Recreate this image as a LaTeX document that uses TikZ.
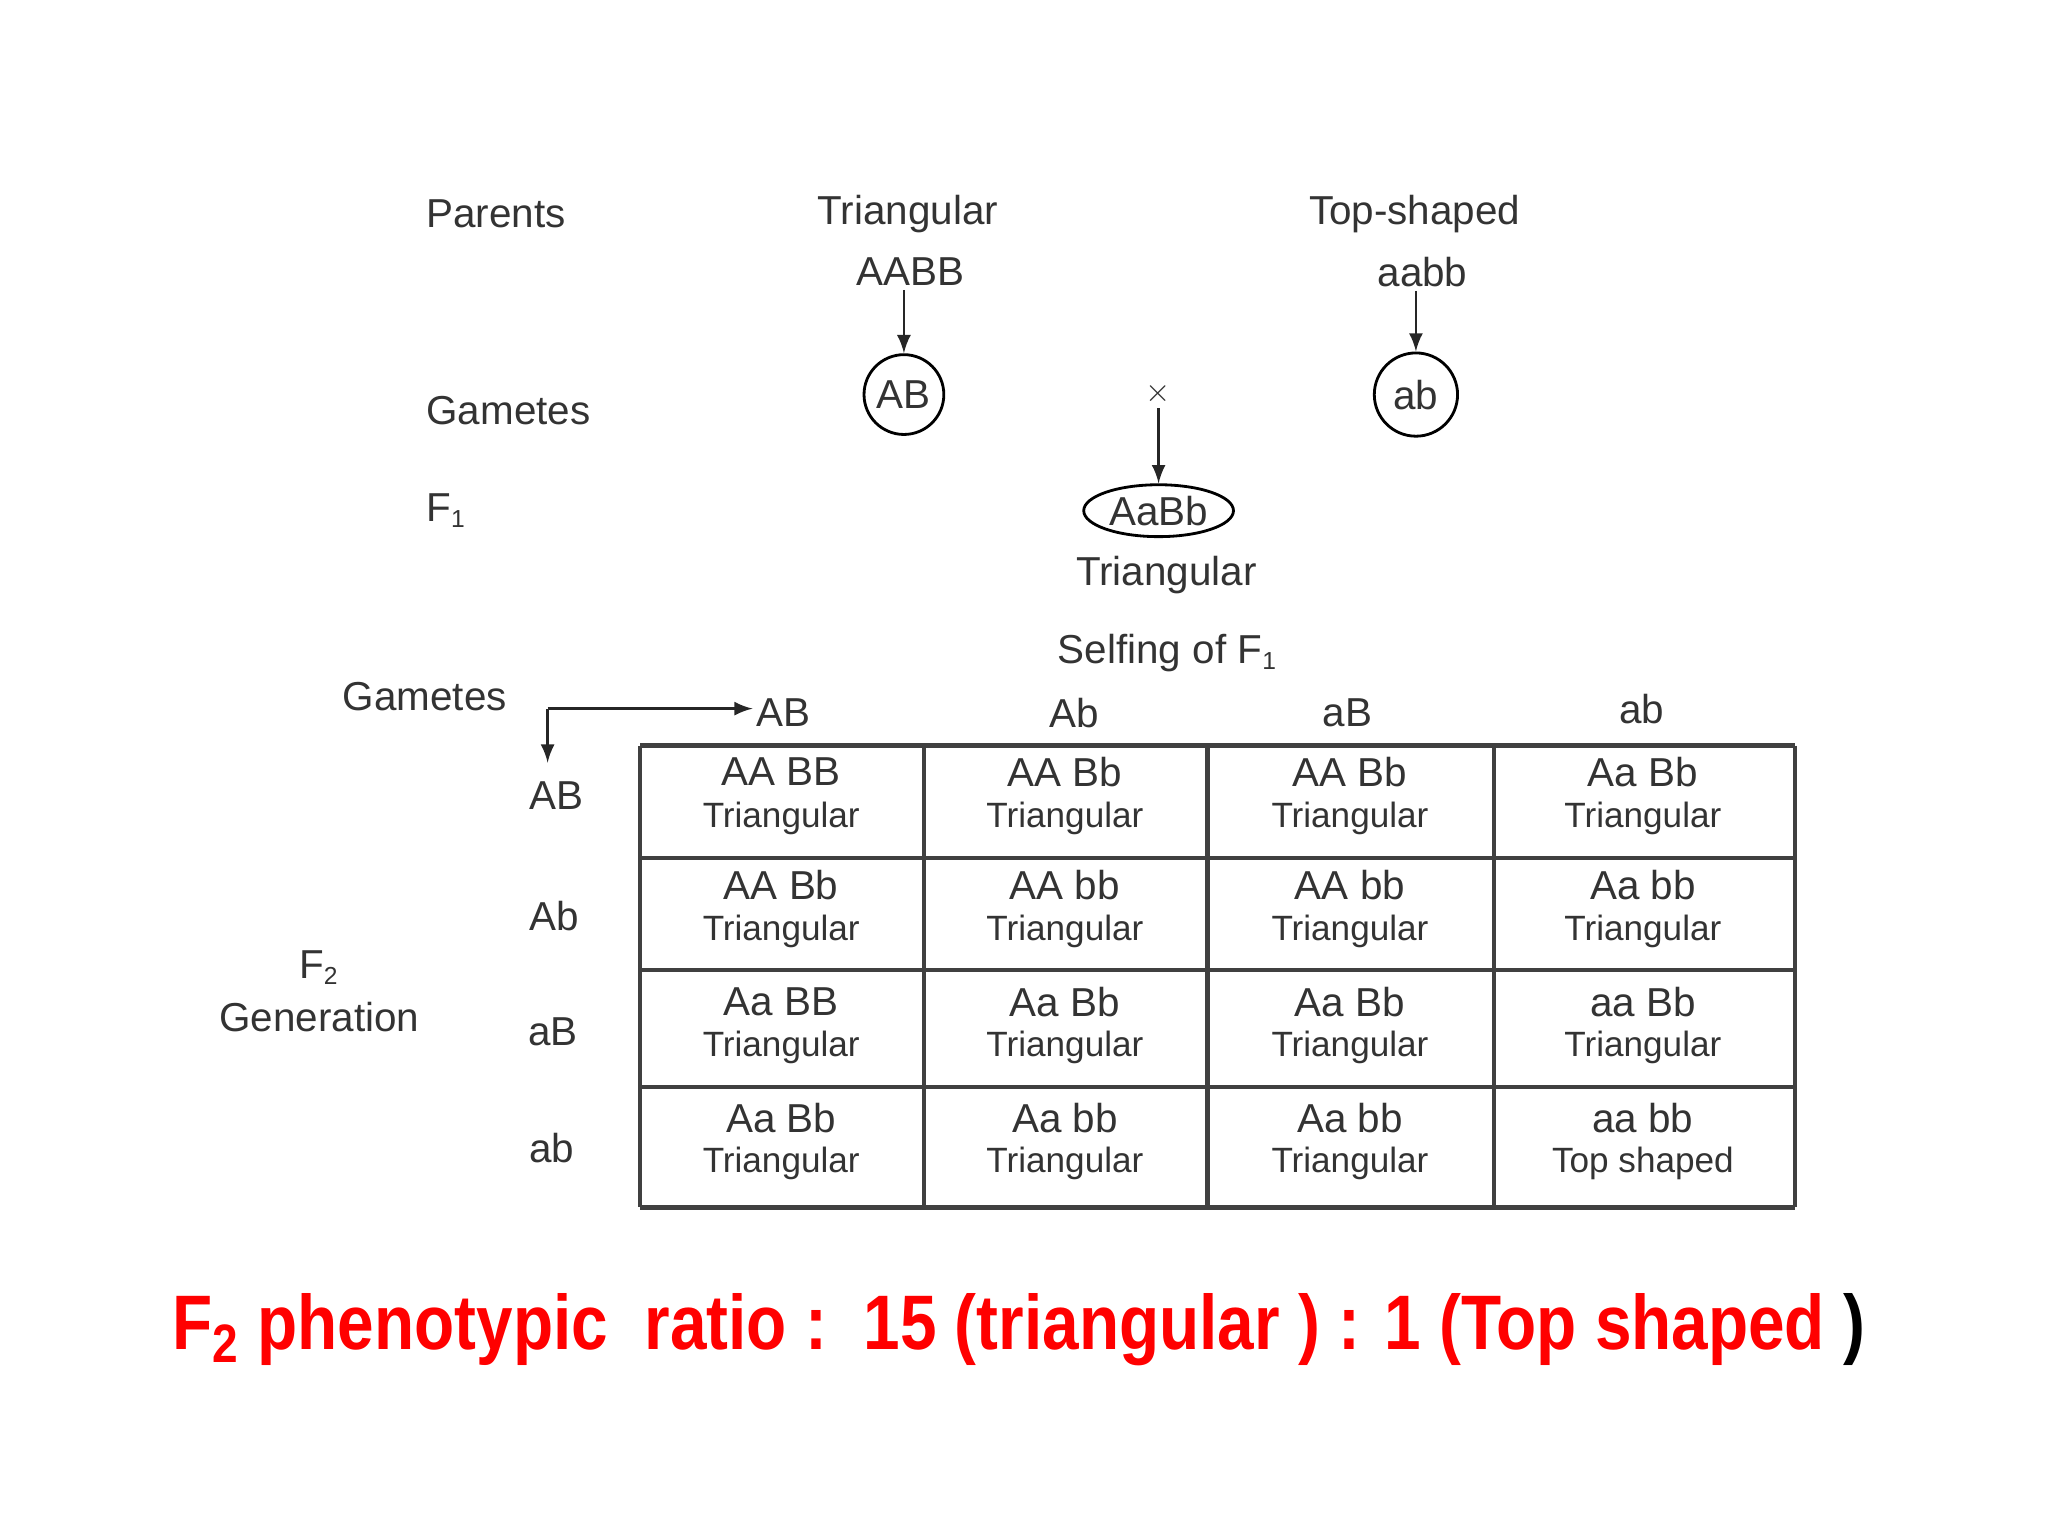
\documentclass[tikz,border=0pt]{standalone}
\usepackage{fontspec}
\setmainfont{Liberation Sans}
\usetikzlibrary{shapes.geometric}
\begin{document}
\begin{tikzpicture}[x=0.0132cm,y=-0.0132cm,
  lab/.style={font=\fontsize{11.5}{13}\selectfont,text=black!80,inner sep=1pt},
  gen/.style={font=\fontsize{11.5}{13}\selectfont,text=black!80,inner sep=0pt},
  phe/.style={font=\fontsize{10}{12}\selectfont,text=black!80,inner sep=0pt},
  arr/.style={-latex,thick,black!85},
  cell/.style={draw=black!75,line width=1.2pt}]
\useasboundingbox (0,0) rectangle (1552,1164);
\node[lab,anchor=west] (par) at (320,162) {Parents};
\node[lab] (pt) at (688,162) {Triangular};
\node[lab] (pts) at (1072,162) {Top-shaped};
\node[lab] (g1) at (690,206) {AABB};
\node[lab] (g2) at (1078,206) {aabb};
\node[lab,draw,circle,thick,inner sep=2pt] (ga) at (685,299) {AB};
\node[lab,draw,circle,thick,inner sep=3pt] (gb) at (1073,299) {ab};
\draw[arr] (g1.south -| ga) -- (ga.north);
\draw[arr] (g2.south -| gb) -- (gb.north);
\node[lab,anchor=west] (gam) at (320,311) {Gametes};
\node[lab,font=\fontsize{9}{10}\selectfont] (x) at (878,298) {$\times$};
\node[lab,draw,ellipse,thick,inner sep=1pt] (f1) at (878,387) {AaBb};
\draw[arr] (x.south) -- (x.south |- f1.north);
\node[lab,anchor=west] (f1l) at (320,387) {F\textsubscript{\scriptsize 1}};
\node[lab] (f1t) at (884,436) {Triangular};
\node[lab] (self) at (885,495) {Selfing of F\textsubscript{\scriptsize 1}};
\node[lab] (gam2) at (322,528) {Gametes};
\coordinate (corner) at (415,537);
\coordinate (down) at (415,578);
\node[lab] (cAB) at (594,540) {AB};
\node[lab] (cAb) at (814,540) {Ab};
\node[lab] (caB) at (1021,540) {aB};
\node[lab] (cab) at (1244,537) {ab};
\node[lab] (rAB) at (422,603) {AB};
\node[lab] (rAb) at (420,694) {Ab};
\node[lab] (raB) at (419,782) {aB};
\node[lab] (rab) at (418,870) {ab};
\draw[arr] (corner) -- (corner -| cAB.west);
\draw[arr] (corner) -- (down);
\node[lab,align=center] (f2) at (242,751) {F\textsubscript{\scriptsize 2}\\[2pt]Generation};
\foreach \x in {485,700,915,1132,1360} \draw[cell] (\x,565) -- (\x,915);
\foreach \y in {565,650,735,824,915} \draw[cell] (485,\y) -- (1360,\y);
\def\cx{{592,807,1023,1245}}
\def\cy{{600,686,774,862}}
\foreach \g/\p [count=\i from 0] in {AA BB/Triangular,AA Bb/Triangular,AA Bb/Triangular,Aa Bb/Triangular,
 AA Bb/Triangular,AA bb/Triangular,AA bb/Triangular,Aa bb/Triangular,
 Aa BB/Triangular,Aa Bb/Triangular,Aa Bb/Triangular,aa Bb/Triangular,
 Aa Bb/Triangular,Aa bb/Triangular,Aa bb/Triangular,aa bb/Top shaped}{
  \pgfmathtruncatemacro\r{int(\i/4)}
  \pgfmathtruncatemacro\c{mod(\i,4)}
  \pgfmathsetmacro\xx{\cx[\c]}
  \pgfmathsetmacro\yy{\cy[\r]}
  \node[gen] (g\i) at (\xx,\yy-15) {\g};
  \node[phe] (p\i) at (\xx,\yy+20) {\p};
}
\node[font=\bfseries\fontsize{22}{26}\selectfont,text=red,xscale=0.85,inner sep=0pt] (ratio) at (772,1008)
 {F\textsubscript{2} phenotypic\ \ ratio :\ \ 15 (triangular ) : 1 (Top shaped \textcolor{black}{)}};
\end{tikzpicture}
\end{document}
